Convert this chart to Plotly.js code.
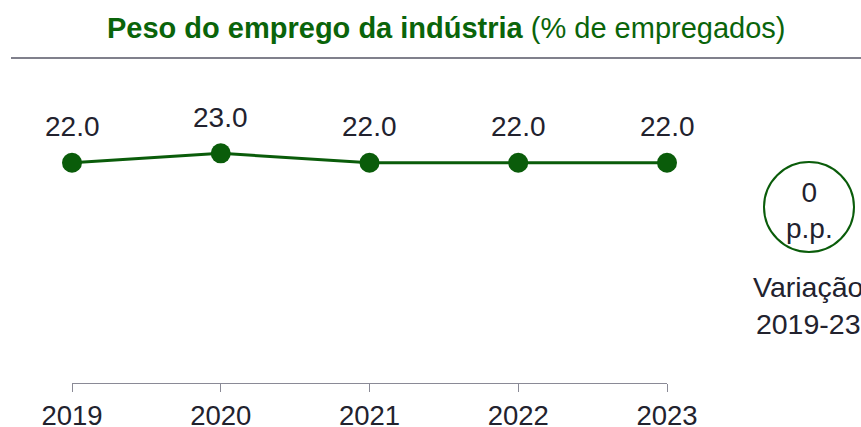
<!DOCTYPE html>
<html>
<head>
<meta charset="utf-8">
<script src="https://cdn.plot.ly/plotly-3.0.1.min.js"></script>
<style>html,body{margin:0;padding:0;background:#fff;}#chart{width:861px;height:427px;}</style>
</head>
<body>
<div id="chart"></div>
<script>
const years = ['2019', '2020', '2021', '2022', '2023'];
const values = [22.0, 23.0, 22.0, 22.0, 22.0];
const labels = ['22.0', '23.0', '22.0', '22.0', '22.0'];
const titleBold = 'Peso do emprego da indústria';
const titleRest = '(% de empregados)';
const variationValue = '0';
const variationUnit = 'p.p.';
const variationLabel = ['Variação', '2019-23'];

const W = 861, H = 427;
const green = '#0a5c0a';
const textColor = '#22222e';
const font = 'Liberation Sans, Arial, sans-serif';
const px = x => x / W;
const py = y => 1 - y / H;

const trace = {
  x: years.map(Number),
  y: values,
  mode: 'lines+markers',
  line: {color: green, width: 3},
  marker: {color: green, size: 20},
  cliponaxis: false,
  hoverinfo: 'none'
};

const labelAnnotations = years.map((yr, i) => ({
  xref: 'x', yref: 'y', x: Number(yr), y: values[i],
  text: labels[i], showarrow: false,
  xanchor: 'center', yanchor: 'middle', yshift: 36,
  font: {family: font, size: 28, color: textColor}
}));

const layout = {
  width: W, height: H,
  margin: {l: 0, r: 0, t: 0, b: 0},
  paper_bgcolor: '#fff', plot_bgcolor: '#fff',
  showlegend: false,
  font: {family: font, color: textColor},
  xaxis: {
    domain: [px(72), px(667)],
    range: [2019, 2023],
    tickvals: years.map(Number),
    ticktext: years,
    showgrid: false, zeroline: false,
    showline: true, linecolor: '#8a8a96', linewidth: 1,
    ticks: 'outside', ticklen: 8, tickcolor: '#8a8a96', tickwidth: 1,
    tickfont: {family: font, size: 27.5, color: textColor}
  },
  yaxis: {
    domain: [py(383), py(60)],
    range: [-1.44, 32.93],
    visible: false
  },
  shapes: [
    {type: 'line', xref: 'paper', yref: 'paper', x0: px(11), x1: 1, y0: py(58), y1: py(58),
     line: {color: '#80808c', width: 2}},
    {type: 'circle', xref: 'paper', yref: 'paper', x0: px(764), x1: px(854), y0: py(162), y1: py(252),
     line: {color: green, width: 2}}
  ],
  annotations: [
    {xref: 'paper', yref: 'paper', x: px(447), y: py(28), xanchor: 'center', yanchor: 'middle', showarrow: false,
     text: '<b>' + titleBold + '</b> ' + titleRest, font: {family: font, size: 29, color: '#0a640a'}},
    {xref: 'paper', yref: 'paper', x: px(809), y: py(210), xanchor: 'center', yanchor: 'middle', showarrow: false,
     text: variationValue + '<br>' + variationUnit, font: {family: font, size: 28, color: textColor}},
    {xref: 'paper', yref: 'paper', x: px(808), y: py(305), xanchor: 'center', yanchor: 'middle', showarrow: false,
     text: variationLabel.join('<br>'), font: {family: font, size: 28.5, color: textColor}}
  ].concat(labelAnnotations)
};

Plotly.newPlot('chart', [trace], layout, {staticPlot: true, displayModeBar: false});
</script>
</body>
</html>
